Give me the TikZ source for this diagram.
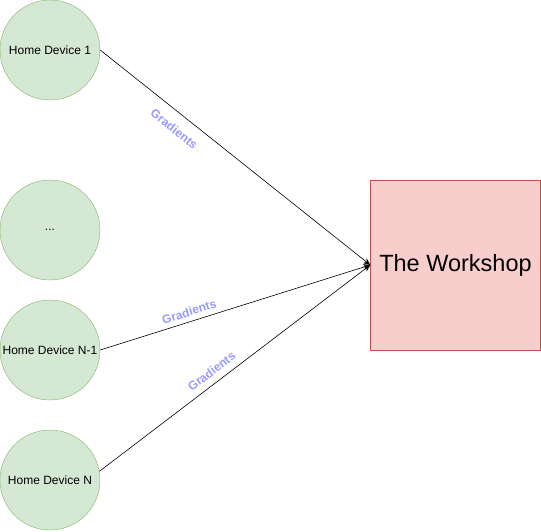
\documentclass[tikz,border=0pt]{standalone}
\usepackage{fontspec}
\setmainfont{Liberation Sans}
\usetikzlibrary{arrows.meta}
\definecolor{devfill}{HTML}{D5E8D4}
\definecolor{devline}{HTML}{82B366}
\definecolor{shopfill}{HTML}{F8CECC}
\definecolor{shopline}{HTML}{B85450}
\definecolor{gradcol}{HTML}{9999FF}
\begin{document}
\begin{tikzpicture}[
        x=1pt, y=-1pt,
        device/.style={circle, draw=devline, fill=devfill, minimum size=100pt, inner sep=0pt, font=\fontsize{12}{14}\selectfont},
        shop/.style={rectangle, draw=shopline, fill=shopfill, minimum width=170pt, minimum height=170pt, font=\fontsize{23.5}{28}\selectfont},
        grad/.style={-{Stealth[length=7pt,width=6pt]}, line width=0.6pt},
    ]
    \tikzstyle{gradlabel}=[sloped, text=gradcol, font=\fontsize{12}{14}\selectfont\bfseries, inner sep=2pt]
    \useasboundingbox (0,0) rectangle (541,531);
    \node[device] (dev1) at (50,50) {Home Device 1};
    \node[device] (devdots) at (50,230) {...};
    \node[device] (devn1) at (50,350) {Home Device N-1};
    \node[device] (devn) at (50,480) {Home Device N};
    \node[shop] (shop) at (455.5,265) {The Workshop};
    \draw[grad] (dev1.east) -- node[gradlabel, pos=0.31, below=9pt] {Gradients} (shop.west);
    \draw[grad] (devn1.east) -- node[gradlabel, pos=0.34, above=3pt] {Gradients} (shop.west);
    \draw[grad] (devn.10) -- node[gradlabel, pos=0.44, above=5pt] {Gradients} (shop.west);
\end{tikzpicture}
\end{document}
